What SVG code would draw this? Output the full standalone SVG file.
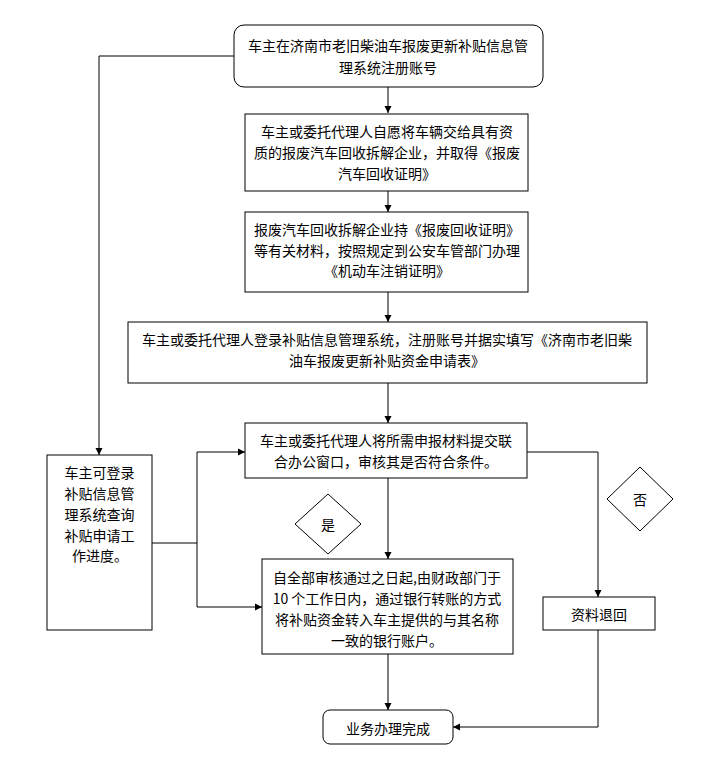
<svg xmlns="http://www.w3.org/2000/svg" width="716" height="776" viewBox="0 0 716 776">
<defs>
<style>
.box{fill:#fff;stroke:#000;stroke-width:1}
.t{font-family:"Noto Sans CJK SC","Liberation Sans",sans-serif;font-size:14px;fill:#000;text-anchor:middle;dominant-baseline:central}
.ln{fill:none;stroke:#000;stroke-width:1}
</style>
<marker id="ah" markerWidth="8" markerHeight="8" refX="7" refY="4" orient="auto" markerUnits="userSpaceOnUse">
<path d="M0,0.5 L7,4 L0,7.5 Z" fill="#000"/>
</marker>
</defs>
<rect width="716" height="776" fill="#fff"/>
<g id="connectors">
<path class="ln" d="M388,87 V113" marker-end="url(#ah)"/>
<path class="ln" d="M388,191 V212" marker-end="url(#ah)"/>
<path class="ln" d="M388,292 V322" marker-end="url(#ah)"/>
<path class="ln" d="M388,383 V423" marker-end="url(#ah)"/>
<path class="ln" d="M388,478 V559" marker-end="url(#ah)"/>
<path class="ln" d="M388,654 V710" marker-end="url(#ah)"/>
<path class="ln" d="M234,56 H99 V455" marker-end="url(#ah)"/>
<path class="ln" d="M152,543 H197"/>
<path class="ln" d="M197,452 V607"/>
<path class="ln" d="M197,452 H245" marker-end="url(#ah)"/>
<path class="ln" d="M197,607 H262" marker-end="url(#ah)"/>
<path class="ln" d="M527,452 H598 V597" marker-end="url(#ah)"/>
<path class="ln" d="M598,630 V727 H453" marker-end="url(#ah)"/>
</g>
<g id="n1">
<rect class="box" x="234" y="25" width="309" height="62" rx="10"/>
<text class="t" x="388" y="45">车主在济南市老旧柴油车报废更新补贴信息管</text>
<text class="t" x="388" y="67">理系统注册账号</text>
</g>
<g id="n2">
<rect class="box" x="245" y="114" width="283" height="77"/>
<text class="t" x="387" y="131">车主或委托代理人自愿将车辆交给具有资</text>
<text class="t" x="387" y="152">质的报废汽车回收拆解企业，并取得《报废</text>
<text class="t" x="387" y="173">汽车回收证明》</text>
</g>
<g id="n3">
<rect class="box" x="245" y="212" width="283" height="80"/>
<text class="t" x="387" y="229">报废汽车回收拆解企业持《报废回收证明》</text>
<text class="t" x="387" y="250">等有关材料，按照规定到公安车管部门办理</text>
<text class="t" x="387" y="270">《机动车注销证明》</text>
</g>
<g id="n4">
<rect class="box" x="128" y="322" width="519" height="61"/>
<text class="t" x="387" y="339">车主或委托代理人登录补贴信息管理系统，注册账号并据实填写《济南市老旧柴</text>
<text class="t" x="387" y="360">油车报废更新补贴资金申请表》</text>
</g>
<g id="n5">
<rect class="box" x="245" y="423" width="282" height="55"/>
<text class="t" x="386" y="440">车主或委托代理人将所需申报材料提交联</text>
<text class="t" x="386" y="461">合办公窗口，审核其是否符合条件。</text>
</g>
<g id="n6">
<rect class="box" x="47" y="455" width="105" height="175"/>
<text class="t" x="99.5" y="472">车主可登录</text>
<text class="t" x="99.5" y="493">补贴信息管</text>
<text class="t" x="99.5" y="514">理系统查询</text>
<text class="t" x="99.5" y="535">补贴申请工</text>
<text class="t" x="100" y="555">作进度。</text>
</g>
<g id="n7">
<polygon class="box" points="328,494 361,524 328,554 295,524"/>
<text class="t" x="328" y="524">是</text>
</g>
<g id="n8">
<polygon class="box" points="640,467 673,499 640,531 607,499"/>
<text class="t" x="640" y="499">否</text>
</g>
<g id="n9">
<rect class="box" x="262" y="559" width="251" height="95"/>
<text class="t" x="387" y="577">自全部审核通过之日起,由财政部门于</text>
<text class="t" x="387" y="598">10 个工作日内，通过银行转账的方式</text>
<text class="t" x="387" y="619">将补贴资金转入车主提供的与其名称</text>
<text class="t" x="387" y="640">一致的银行账户。</text>
</g>
<g id="n10">
<rect class="box" x="543" y="597" width="112" height="33"/>
<text class="t" x="599" y="614">资料退回</text>
</g>
<g id="n11">
<rect class="box" x="323" y="710" width="130" height="34" rx="7"/>
<text class="t" x="388" y="728">业务办理完成</text>
</g>
</svg>
